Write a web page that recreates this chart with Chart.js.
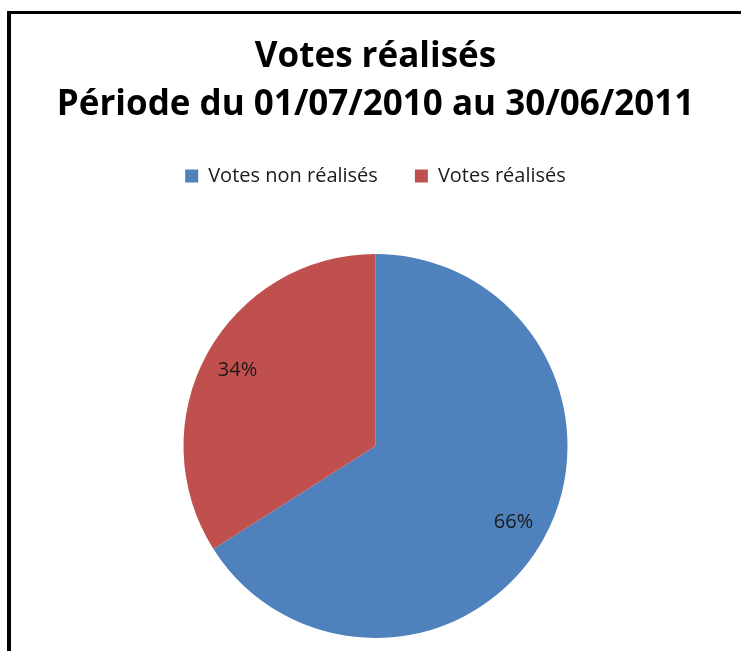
<!DOCTYPE html>
<html>
<head>
<meta charset="utf-8">
<script src="https://cdn.jsdelivr.net/npm/chart.js@4"></script>
<style>
  html, body { margin: 0; padding: 0; background: #fff; overflow: hidden; }
  #frame { position: absolute; left: 7px; top: 11px; width: 800px; height: 700px;
           border-left: 4px solid #000; border-top: 3px solid #000; }
  #wrap { position: absolute; left: 0; top: 0; width: 741px; height: 651px; }
</style>
</head>
<body>
<div id="frame"></div>
<div id="wrap"><canvas id="pie-chart" width="741" height="651"></canvas></div>
<script>
const titleLines = ["Votes réalisés", "Période du 01/07/2010 au 30/06/2011"];
const categories = ["Votes non réalisés", "Votes réalisés"];
const shares = [66, 34];
const sliceColors = ["#4F81BD", "#C0504D"];

// percent labels inside the slices
const pctLabels = {
  id: 'pctLabels',
  afterDatasetsDraw(chart) {
    const ctx = chart.ctx;
    const meta = chart.getDatasetMeta(0);
    const data = chart.data.datasets[0].data;
    const total = data.reduce((a, b) => a + b, 0);
    ctx.save();
    ctx.font = '20px "Open Sans"';
    ctx.fillStyle = '#1a1a1a';
    ctx.textAlign = 'center';
    ctx.textBaseline = 'middle';
    meta.data.forEach((arc, i) => {
      const mid = (arc.startAngle + arc.endAngle) / 2;
      const r = arc.outerRadius * 0.82;
      const pct = Math.round(data[i] / total * 100) + '%';
      ctx.fillText(pct, arc.x + Math.cos(mid) * r, arc.y + Math.sin(mid) * r);
    });
    ctx.restore();
  }
};

// extra space under the legend
const legendGap = {
  id: 'legendGap',
  beforeLayout(chart) {
    const lg = chart.legend;
    if (lg && !lg._gapDone) {
      const fit = lg.fit;
      lg.fit = function () { fit.call(this); this.height += 58; };
      lg._gapDone = true;
    }
  }
};

new Chart(document.getElementById("pie-chart"), {
  type: 'pie',
  data: {
    labels: categories,
    datasets: [{
      data: shares,
      backgroundColor: sliceColors,
      borderWidth: 0
    }]
  },
  options: {
    responsive: false,
    animation: false,
    layout: { padding: { left: 11, right: 1, top: 0, bottom: 13 } },
    plugins: {
      title: {
        display: true,
        text: titleLines,
        color: '#000',
        font: { family: '"Open Sans"', size: 35, weight: 'bold', lineHeight: 48 / 35 },
        padding: { top: 33, bottom: 0 }
      },
      legend: {
        position: 'top',
        labels: {
          boxWidth: 13,
          boxHeight: 13,
          padding: 37,
          color: '#1a1a1a',
          font: { family: '"Open Sans"', size: 20 }
        }
      },
      tooltip: { enabled: false }
    }
  },
  plugins: [pctLabels, legendGap]
});
</script>
</body>
</html>
